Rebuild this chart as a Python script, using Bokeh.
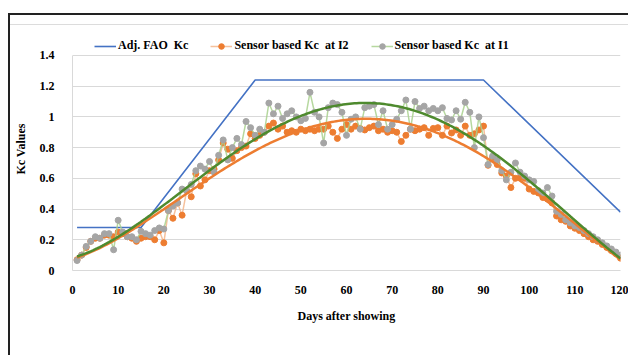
import numpy as np
from bokeh.plotting import figure
from bokeh.models import Legend, LegendItem, FixedTicker, ColumnDataSource, Div
from bokeh.layouts import column
from bokeh.embed import file_html
from bokeh.resources import INLINE

# ---------------- data ----------------
days = list(range(1, 121))

kc_i2 = [0.07, 0.10, 0.15, 0.19, 0.21, 0.21, 0.23, 0.23, 0.22, 0.25,
         0.24, 0.22, 0.21, 0.19, 0.21, 0.22, 0.22, 0.20, 0.26, 0.18,
         0.39, 0.34, 0.44, 0.36, 0.52, 0.48, 0.63, 0.55, 0.59, 0.65,
         0.66, 0.72, 0.83, 0.79, 0.73, 0.78, 0.80, 0.81, 0.89, 0.86,
         0.88, 0.90, 0.94, 0.96, 0.92, 0.94, 0.90, 0.91, 0.90, 0.92,
         0.91, 0.92, 0.91, 0.92, 0.92, 0.94, 0.90, 0.86, 0.92, 0.95,
         0.92, 0.94, 0.925, 0.915, 0.93, 0.94, 0.91, 0.92, 0.90, 0.91,
         0.90, 0.84, 0.88, 0.92, 0.91, 0.92, 0.93, 0.88, 0.925, 0.93,
         0.88, 0.94, 0.895, 0.915, 0.88, 0.94, 0.88, 0.89, 0.915, 0.94,
         0.685, 0.735, 0.69, 0.635, 0.615, 0.54, 0.60, 0.605, 0.60, 0.53,
         0.515, 0.505, 0.475, 0.465, 0.44, 0.355, 0.33, 0.32, 0.29, 0.275,
         0.26, 0.24, 0.22, 0.20, 0.19, 0.17, 0.15, 0.13, 0.11, 0.08]

kc_i1 = [0.065, 0.10, 0.157, 0.19, 0.22, 0.21, 0.24, 0.24, 0.135, 0.327,
         0.25, 0.22, 0.22, 0.20, 0.255, 0.24, 0.23, 0.26, 0.277, 0.27,
         0.39, 0.42, 0.44, 0.53, 0.52, 0.56, 0.65, 0.68, 0.66, 0.71,
         0.64, 0.75, 0.85, 0.72, 0.80, 0.86, 0.82, 0.97, 0.93, 0.88,
         0.92, 0.90, 1.09, 1.02, 1.07, 0.99, 1.02, 1.04, 1.00, 0.975,
         0.99, 1.16, 1.03, 1.00, 0.83, 1.06, 1.09, 1.08, 1.03, 0.88,
         0.985, 1.00, 0.92, 1.06, 1.07, 1.08, 0.95, 1.04, 0.92, 0.95,
         0.985, 1.04, 1.11, 0.92, 1.10, 1.055, 1.07, 1.04, 1.055, 1.04,
         1.06, 0.99, 0.98, 1.04, 0.985, 1.095, 1.03, 0.80, 1.00, 0.865,
         0.69, 0.745, 0.72, 0.65, 0.59, 0.64, 0.70, 0.64, 0.615, 0.59,
         0.58, 0.52, 0.505, 0.54, 0.485, 0.385, 0.365, 0.33, 0.31, 0.29,
         0.28, 0.26, 0.24, 0.22, 0.20, 0.18, 0.16, 0.14, 0.12, 0.10]

fao_days = [1, 15, 40, 90, 120]
fao_kc = [0.28, 0.28, 1.24, 1.24, 0.38]

x_ticks = [0, 10, 20, 30, 40, 50, 60, 70, 80, 90, 100, 110, 120]
y_ticks = [0, 0.2, 0.4, 0.6, 0.8, 1.0, 1.2, 1.4]
y_tick_labels = ["0", "0.2", "0.4", "0.6", "0.8", "1", "1.2", "1.4"]

# polynomial trend lines (as Excel trendline) fitted to the series
xd = np.array(days, dtype=float)
xs = np.linspace(1, 120, 240)
trend_i1 = np.polyval(np.polyfit(xd, np.array(kc_i1), 4), xs)
trend_i2 = np.polyval(np.polyfit(xd, np.array(kc_i2), 4), xs)

FONT = "Liberation Serif"

# the frame reaches up to hold the legend; the y axis itself stops at 1.4
p = figure(width=618, height=330, x_range=(0, 120), y_range=(0, 1.582),
           output_backend="svg", toolbar_location=None,
           min_border_left=61, min_border_right=8, min_border_top=2,
           min_border_bottom=85)
p.outline_line_color = None
p.background_fill_color = "white"
p.border_fill_color = "white"

src = ColumnDataSource(dict(day=days, i1=kc_i1, i2=kc_i2))

r_fao = p.line(fao_days, fao_kc, line_color="#4472C4", line_width=1.6)
r_i2_line = p.line("day", "i2", source=src, line_color="#F4B183", line_width=1.5, line_alpha=0.8)
r_i2_pts = p.scatter("day", "i2", source=src, size=6, fill_color="#ED7D31", line_color="#ED7D31")
r_i1_line = p.line("day", "i1", source=src, line_color="#A9D18E", line_width=1.5, line_alpha=0.85)
r_i1_pts = p.scatter("day", "i1", source=src, size=6, fill_color="#A5A5A5", line_color="#A5A5A5")
p.line(xs, trend_i2, line_color="#ED7D31", line_width=2.5)
p.line(xs, trend_i1, line_color="#4E8A2E", line_width=2.5)

# axes
p.xaxis.ticker = FixedTicker(ticks=x_ticks)
p.yaxis.ticker = FixedTicker(ticks=y_ticks)
p.yaxis.bounds = (0, 1.4)
p.yaxis.major_label_overrides = {t: l for t, l in zip(y_ticks, y_tick_labels)}
for ax in (p.xaxis, p.yaxis):
    ax.axis_line_color = "#D9D9D9"
    ax.major_tick_line_color = None
    ax.minor_tick_line_color = None
    ax.major_label_text_font = FONT
    ax.major_label_text_font_style = "bold"
    ax.major_label_text_font_size = "12px"
    ax.major_label_text_color = "black"
    ax.axis_label_text_font = FONT
    ax.axis_label_text_font_style = "bold"
    ax.axis_label_text_font_size = "12px"
    ax.axis_label_text_color = "black"
p.xaxis.axis_label = "Days after showing"
p.yaxis.axis_label = "Kc Values"
p.xaxis.major_label_standoff = 9
p.yaxis.major_label_standoff = 12
p.xaxis.axis_label_standoff = 12
p.yaxis.axis_label_standoff = 9

p.xgrid.grid_line_color = None
p.ygrid.grid_line_color = "#D9D9D9"
p.ygrid.grid_line_width = 1

legend = Legend(items=[
    LegendItem(label="Adj. FAO  Kc", renderers=[r_fao]),
    LegendItem(label="Sensor based Kc  at I2", renderers=[r_i2_line, r_i2_pts]),
    LegendItem(label="Sensor based Kc  at I1", renderers=[r_i1_line, r_i1_pts]),
], orientation="horizontal", location=(22, 217))
legend.label_text_font = FONT
legend.label_text_font_style = "bold"
legend.label_text_font_size = "12px"
legend.label_text_color = "black"
legend.glyph_width = 22
legend.glyph_height = 14
legend.label_standoff = 2
legend.spacing = 22
legend.padding = 4
legend.margin = 0
legend.border_line_color = None
legend.background_fill_alpha = 0
p.add_layout(legend, "center")

top = Div(text="", width=618, height=10, margin=0,
          styles={"border-bottom": "1px solid #DCDCDC"})
layout = column(top, p, spacing=0, margin=(13, 0, 0, 8),
                styles={"border-left": "2px solid #222", "border-top": "2px solid #222",
                        "background-color": "white"})

open("out.html", "w").write(file_html(layout, INLINE))
